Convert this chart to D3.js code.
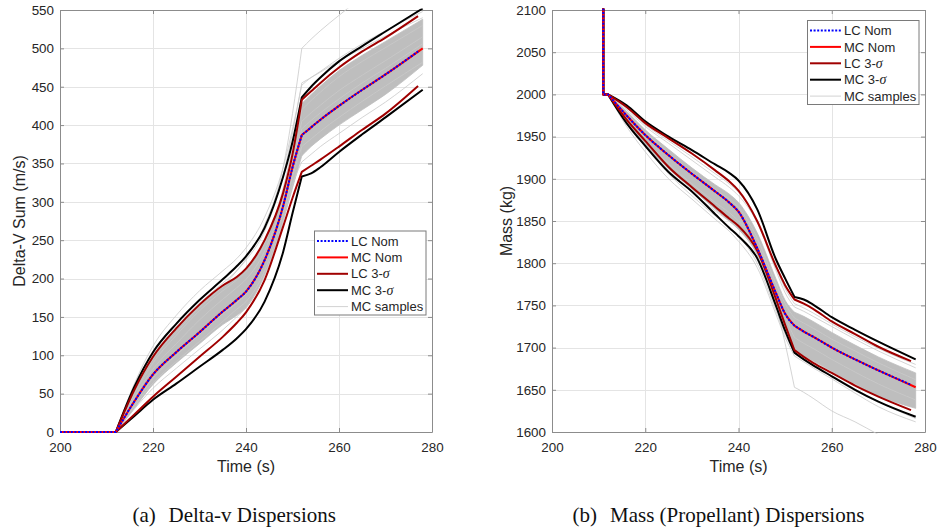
<!DOCTYPE html>
<html>
<head>
<meta charset="utf-8">
<script src="https://cdn.jsdelivr.net/npm/d3@7"></script>
<style>
  body { margin: 0; background: #ffffff; }
  svg { display: block; }
</style>
</head>
<body>
<svg id="fig" width="938" height="529"></svg>
<script>
// ---------- Delta-V panel data (m/s) ----------
const dvTimeMC = [200, 212, 216, 220, 225, 230, 235, 238, 240, 244, 248, 250, 252, 254, 256, 260, 265, 270, 278];
const dvTimeLC = [200, 212, 216, 220, 225, 230, 235, 238, 240, 244, 248, 250, 252, 254, 256, 260, 265, 270, 277];
const dvLcNom  = [0, 0, 40, 75, 104, 130, 157, 172, 183, 224, 295, 345, 387, 397, 407, 425, 446, 466, 496];
const dvMcNom  = [0, 0, 40, 75, 104, 130, 157, 172, 183, 224, 295, 345, 387, 397, 407, 425, 446, 466, 500];
const dvLcHi   = [0, 0, 55, 98, 135, 166, 191, 202, 213, 250, 312, 362, 433, 444, 455, 475, 496, 514, 542];
const dvLcLo   = [0, 0, 23, 46, 72, 98, 124, 142, 156, 198, 268, 305, 339, 347, 355, 372, 394, 415, 451];
const dvMcHi   = [0, 0, 59, 104, 141, 172, 199, 216, 229, 266, 333, 378, 436, 450, 462, 483, 503, 522, 552];
const dvMcLo   = [0, 0, 21, 42, 63, 85, 107, 122, 134, 170, 235, 285, 333, 337, 345, 365, 388, 410, 446];
// dense core of the Monte Carlo runs
const dvBandHi = [0, 0, 54, 97, 133, 164, 189, 201, 212, 248, 312, 360, 428, 440, 451, 471, 491, 509, 538];
const dvBandLo = [0, 0, 31, 62, 90, 115, 140, 152, 162, 205, 275, 318, 360, 372, 382, 400, 420, 440, 478];
// individual Monte Carlo runs outside the core
const dvSamples = [
  [0, 0, 63, 112, 152, 184, 210, 226, 240, 280, 345, 395, 452, 462, 470, 487, 506, 523, 548],
  [0, 0, 50, 90, 126, 158, 184, 198, 209, 245, 318, 370, 420, 432, 443, 463, 483, 501, 530],
  [0, 0, 37, 70, 100, 127, 154, 168, 180, 226, 300, 352, 395, 406, 416, 434, 455, 474, 506],
  [0, 0, 34, 64, 92, 118, 144, 160, 170, 210, 285, 333, 372, 382, 392, 410, 431, 451, 482],
  [0, 0, 30, 57, 83, 108, 133, 150, 162, 204, 276, 322, 352, 362, 372, 389, 410, 430, 467],
  [0, 0, 56, 100, 137, 168, 194, 210, 224, 262, 335, 390, 455, 462, 469, 484, 500, 516, 540],
  [0, 0, 53, 95, 130, 162, 190, 210, 226, 270, 345, 415, 500, 512, 523, 543, 567, 590, 625],
  [0, 0, 45, 82, 115, 146, 173, 188, 199, 236, 305, 356, 405, 416, 426, 445, 465, 484, 515]
];
const dvTicksX = [200, 220, 240, 260, 280];
const dvTicksY = [0, 50, 100, 150, 200, 250, 300, 350, 400, 450, 500, 550];

// ---------- Mass panel data (kg) ----------
const mTimeMC = [211, 211, 212, 216, 220, 225, 230, 235, 238, 240, 244, 248, 250, 252, 254, 256, 260, 265, 270, 278];
const mTimeLC = [211, 211, 212, 216, 220, 225, 230, 235, 238, 240, 244, 248, 250, 252, 254, 256, 260, 265, 270, 277];
const mLcNom  = [2200, 2000, 2000, 1975, 1952, 1928, 1906, 1885, 1872, 1861, 1818, 1765, 1740, 1726, 1719, 1713, 1700, 1686, 1673, 1656];
const mMcNom  = [2200, 2000, 2000, 1975, 1952, 1928, 1906, 1885, 1872, 1861, 1818, 1765, 1740, 1726, 1719, 1713, 1700, 1686, 1673, 1653];
const mLcHi   = [2200, 2000, 2000, 1985, 1966, 1948, 1930, 1910, 1897, 1886, 1850, 1797, 1774, 1757, 1752, 1746, 1731, 1716, 1701, 1684];
const mLcLo   = [2200, 2000, 2000, 1970, 1945, 1914, 1890, 1867, 1853, 1844, 1815, 1758, 1727, 1697, 1689, 1682, 1670, 1655, 1642, 1626];
const mMcHi   = [2200, 2000, 2000, 1987, 1968, 1950, 1934, 1917, 1907, 1898, 1864, 1805, 1782, 1760, 1757, 1751, 1736, 1721, 1707, 1686];
const mMcLo   = [2200, 2000, 2000, 1966, 1939, 1908, 1885, 1858, 1842, 1832, 1806, 1750, 1720, 1694, 1686, 1679, 1666, 1650, 1636, 1618];
const mBandHi = [2200, 2000, 2000, 1980, 1958, 1935, 1913, 1893, 1882, 1872, 1836, 1782, 1756, 1742, 1737, 1731, 1718, 1703, 1689, 1670];
const mBandLo = [2200, 2000, 2000, 1968, 1941, 1912, 1888, 1864, 1850, 1840, 1810, 1752, 1722, 1697, 1690, 1684, 1672, 1657, 1643, 1628];
const mSamples = [
  [2200, 2000, 2000, 1962, 1932, 1900, 1876, 1852, 1838, 1826, 1795, 1740, 1712, 1690, 1683, 1676, 1663, 1646, 1630, 1612],
  [2200, 2000, 2000, 1982, 1962, 1942, 1922, 1902, 1890, 1880, 1848, 1792, 1765, 1748, 1743, 1737, 1725, 1710, 1696, 1676],
  [2200, 2000, 2000, 1976, 1955, 1930, 1908, 1887, 1876, 1866, 1830, 1776, 1752, 1735, 1729, 1723, 1710, 1696, 1682, 1662],
  [2200, 2000, 2000, 1970, 1946, 1918, 1894, 1872, 1860, 1850, 1822, 1766, 1736, 1712, 1705, 1699, 1686, 1671, 1657, 1638],
  [2200, 2000, 2000, 1965, 1938, 1906, 1880, 1856, 1842, 1832, 1800, 1744, 1716, 1693, 1686, 1680, 1667, 1651, 1636, 1616],
  [2200, 2000, 2000, 1966, 1940, 1910, 1885, 1862, 1850, 1842, 1828, 1752, 1705, 1653, 1647, 1640, 1625, 1612, 1597, 1575],
  [2200, 2000, 2000, 1984, 1964, 1945, 1926, 1906, 1894, 1884, 1850, 1795, 1770, 1752, 1747, 1741, 1728, 1713, 1699, 1680]
];
const mTicksX = [200, 220, 240, 260, 280];
const mTicksY = [1600, 1650, 1700, 1750, 1800, 1850, 1900, 1950, 2000, 2050, 2100];

const legendLabels = [["LC Nom"], ["MC Nom"], ["LC 3-", "σ"], ["MC 3-", "σ"], ["MC samples"]];

// ---------- styling ----------
const SANS = "'Liberation Sans', Arial, Helvetica, sans-serif";
const SERIF = "'Liberation Serif', 'Times New Roman', serif";
const TEXT = "#262626";
const AXIS = "#8c8c8c";
const GRID = "#e4e4e4";
const SAMPLE = "#c9c9c9";
const CORE = "#bebebe";
const C_BLUE = "#0000ff", C_RED = "#ff0000", C_DRED = "#a00000", C_BLACK = "#000000";

const svg = d3.select("#fig");

// Builds a path with sharp corners at two break indices and smooth runs between them.
function seriesPath(x, y, ts, vs, k1, k2) {
  const pts = ts.map((t, i) => [x(t), y(vs[i])]);
  const lin = d3.line();
  const mono = d3.line().curve(d3.curveMonotoneX);
  return lin(pts.slice(0, k1 + 1)) +
         mono(pts.slice(k1, k2 + 1)).replace(/^M/, "L") +
         mono(pts.slice(k2)).replace(/^M/, "L");
}

function drawPanel(p) {
  const g = svg.append("g");
  const [x0, x1] = p.x.range();
  const [y0, y1] = p.y.range(); // y0 bottom, y1 top

  const clipId = "clip-" + p.id;
  svg.append("defs").append("clipPath").attr("id", clipId)
    .append("rect").attr("x", x0 - 1.5).attr("y", y1 - 1.5)
    .attr("width", x1 - x0 + 3).attr("height", y0 - y1 + 3);

  // grid
  g.append("g").selectAll("line").data(p.ticksX.slice(1, -1)).join("line")
    .attr("x1", d => Math.round(p.x(d)) + 0.5).attr("x2", d => Math.round(p.x(d)) + 0.5)
    .attr("y1", y0).attr("y2", y1).attr("stroke", GRID).attr("stroke-width", 1);
  g.append("g").selectAll("line").data(p.ticksY.slice(1, -1)).join("line")
    .attr("y1", d => Math.round(p.y(d)) + 0.5).attr("y2", d => Math.round(p.y(d)) + 0.5)
    .attr("x1", x0).attr("x2", x1).attr("stroke", GRID).attr("stroke-width", 1);

  // axes on all four sides, ticks pointing inward
  const fmt = d3.format("d");
  const styleAxis = sel => {
    sel.select(".domain").attr("stroke", AXIS).attr("stroke-width", 1);
    sel.selectAll(".tick line").attr("stroke", AXIS);
    sel.selectAll("text").attr("fill", TEXT).attr("font-family", SANS).attr("font-size", "13.4px");
  };
  g.append("g").attr("transform", `translate(0,${y0})`)
    .call(d3.axisBottom(p.x).tickValues(p.ticksX).tickFormat(fmt).tickSize(-4).tickSizeOuter(0).tickPadding(10))
    .call(styleAxis);
  g.append("g").attr("transform", `translate(0,${y1})`)
    .call(d3.axisTop(p.x).tickValues(p.ticksX).tickSize(-4).tickSizeOuter(0).tickFormat(""))
    .call(styleAxis);
  g.append("g").attr("transform", `translate(${x0},0)`)
    .call(d3.axisLeft(p.y).tickValues(p.ticksY).tickFormat(fmt).tickSize(-4).tickSizeOuter(0).tickPadding(6))
    .call(styleAxis);
  g.append("g").attr("transform", `translate(${x1},0)`)
    .call(d3.axisRight(p.y).tickValues(p.ticksY).tickSize(-4).tickSizeOuter(0).tickFormat(""))
    .call(styleAxis);

  // axis titles
  g.append("text").attr("x", (x0 + x1) / 2).attr("y", y0 + 40)
    .attr("text-anchor", "middle").attr("font-family", SANS).attr("font-size", "16px")
    .attr("fill", TEXT).text("Time (s)");
  g.append("text").attr("transform", `translate(${p.yLabelX},${(y0 + y1) / 2}) rotate(-90)`)
    .attr("text-anchor", "middle").attr("font-family", SANS).attr("font-size", "16px")
    .attr("fill", TEXT).text(p.yLabel);

  // data
  const plot = g.append("g").attr("clip-path", `url(#${clipId})`);
  const k1 = p.k1, k2 = p.k2;

  // dense Monte Carlo core
  const area = d3.area().curve(d3.curveMonotoneX)
    .x(d => p.x(d[0])).y0(d => p.y(d[1])).y1(d => p.y(d[2]));
  const bandPts = p.tMC.map((t, i) => [t, p.bandLo[i], p.bandHi[i]]);
  [bandPts.slice(k1, k2 + 1), bandPts.slice(k2)].forEach(seg => {
    plot.append("path").attr("d", area(seg)).attr("fill", CORE)
      .attr("stroke", CORE).attr("stroke-width", 0.8);
  });

  // individual runs
  p.samples.forEach(s => {
    plot.append("path").attr("d", seriesPath(p.x, p.y, p.tMC, s, k1, k2))
      .attr("fill", "none").attr("stroke", SAMPLE).attr("stroke-width", 0.8);
  });

  const line = (ts, vs, color, extra) => {
    const el = plot.append("path").attr("d", seriesPath(p.x, p.y, ts, vs, k1, k2))
      .attr("fill", "none").attr("stroke", color).attr("stroke-width", 2)
      .attr("stroke-linejoin", "round");
    if (extra) extra(el);
  };
  line(p.tMC, p.mcHi, C_BLACK);
  line(p.tMC, p.mcLo, C_BLACK);
  line(p.tLC, p.lcHi, C_DRED);
  line(p.tLC, p.lcLo, C_DRED);
  line(p.tMC, p.mcNom, C_RED);
  line(p.tLC, p.lcNom, C_BLUE, el => el.attr("stroke-dasharray", "2,1.6"));

  // legend
  const L = p.legend;
  const lg = g.append("g").attr("transform", `translate(${L.x},${L.y})`);
  lg.append("rect").attr("x", 0.5).attr("y", 0.5).attr("width", L.w).attr("height", L.h)
    .attr("fill", "#ffffff").attr("stroke", "#7a7a7a").attr("stroke-width", 1);
  const styles = [
    { c: C_BLUE, w: 2, dash: "2,1.6" },
    { c: C_RED, w: 2 },
    { c: C_DRED, w: 2 },
    { c: C_BLACK, w: 2 },
    { c: "#d2d2d2", w: 1 }
  ];
  legendLabels.forEach((lab, i) => {
    const yy = 10.5 + i * 16.4;
    const st = styles[i];
    lg.append("line").attr("x1", 3).attr("x2", 34).attr("y1", yy).attr("y2", yy)
      .attr("stroke", st.c).attr("stroke-width", st.w)
      .attr("stroke-dasharray", st.dash || null);
    const t = lg.append("text").attr("x", 37).attr("y", yy).attr("dy", "0.36em")
      .attr("font-family", SANS).attr("font-size", "13px").attr("fill", TEXT);
    t.append("tspan").text(lab[0]);
    if (lab[1]) t.append("tspan").attr("font-family", SERIF).attr("font-style", "italic")
      .attr("font-size", "14px").text(lab[1]);
  });

  // caption
  const cap = svg.append("text").attr("y", 521.5).attr("font-family", SERIF)
    .attr("font-size", "21px").attr("fill", "#111");
  cap.append("tspan").attr("x", p.caption.x).text(p.caption.tag);
  cap.append("tspan").attr("x", p.caption.x2).text(p.caption.text);
}

drawPanel({
  id: "dv",
  x: d3.scaleLinear([200, 280], [60, 432]),
  y: d3.scaleLinear([0, 550], [432, 10]),
  ticksX: dvTicksX, ticksY: dvTicksY,
  tMC: dvTimeMC, tLC: dvTimeLC, k1: 1, k2: 12,
  lcNom: dvLcNom, mcNom: dvMcNom, lcHi: dvLcHi, lcLo: dvLcLo, mcHi: dvMcHi, mcLo: dvMcLo,
  bandHi: dvBandHi, bandLo: dvBandLo, samples: dvSamples,
  yLabel: "Delta-V Sum (m/s)", yLabelX: 25,
  legend: { x: 314, y: 230.5, w: 111.5, h: 84 },
  caption: { x: 132.5, x2: 168.5, tag: "(a)", text: "Delta-v Dispersions" }
});

drawPanel({
  id: "mass",
  x: d3.scaleLinear([200, 280], [552, 925]),
  y: d3.scaleLinear([1600, 2100], [432, 10]),
  ticksX: mTicksX, ticksY: mTicksY,
  tMC: mTimeMC, tLC: mTimeLC, k1: 2, k2: 13,
  lcNom: mLcNom, mcNom: mMcNom, lcHi: mLcHi, lcLo: mLcLo, mcHi: mMcHi, mcLo: mMcLo,
  bandHi: mBandHi, bandLo: mBandLo, samples: mSamples,
  yLabel: "Mass (kg)", yLabelX: 511.5,
  legend: { x: 807, y: 20, w: 111.5, h: 84 },
  caption: { x: 572.5, x2: 610, tag: "(b)", text: "Mass (Propellant) Dispersions" }
});
</script>
</body>
</html>
